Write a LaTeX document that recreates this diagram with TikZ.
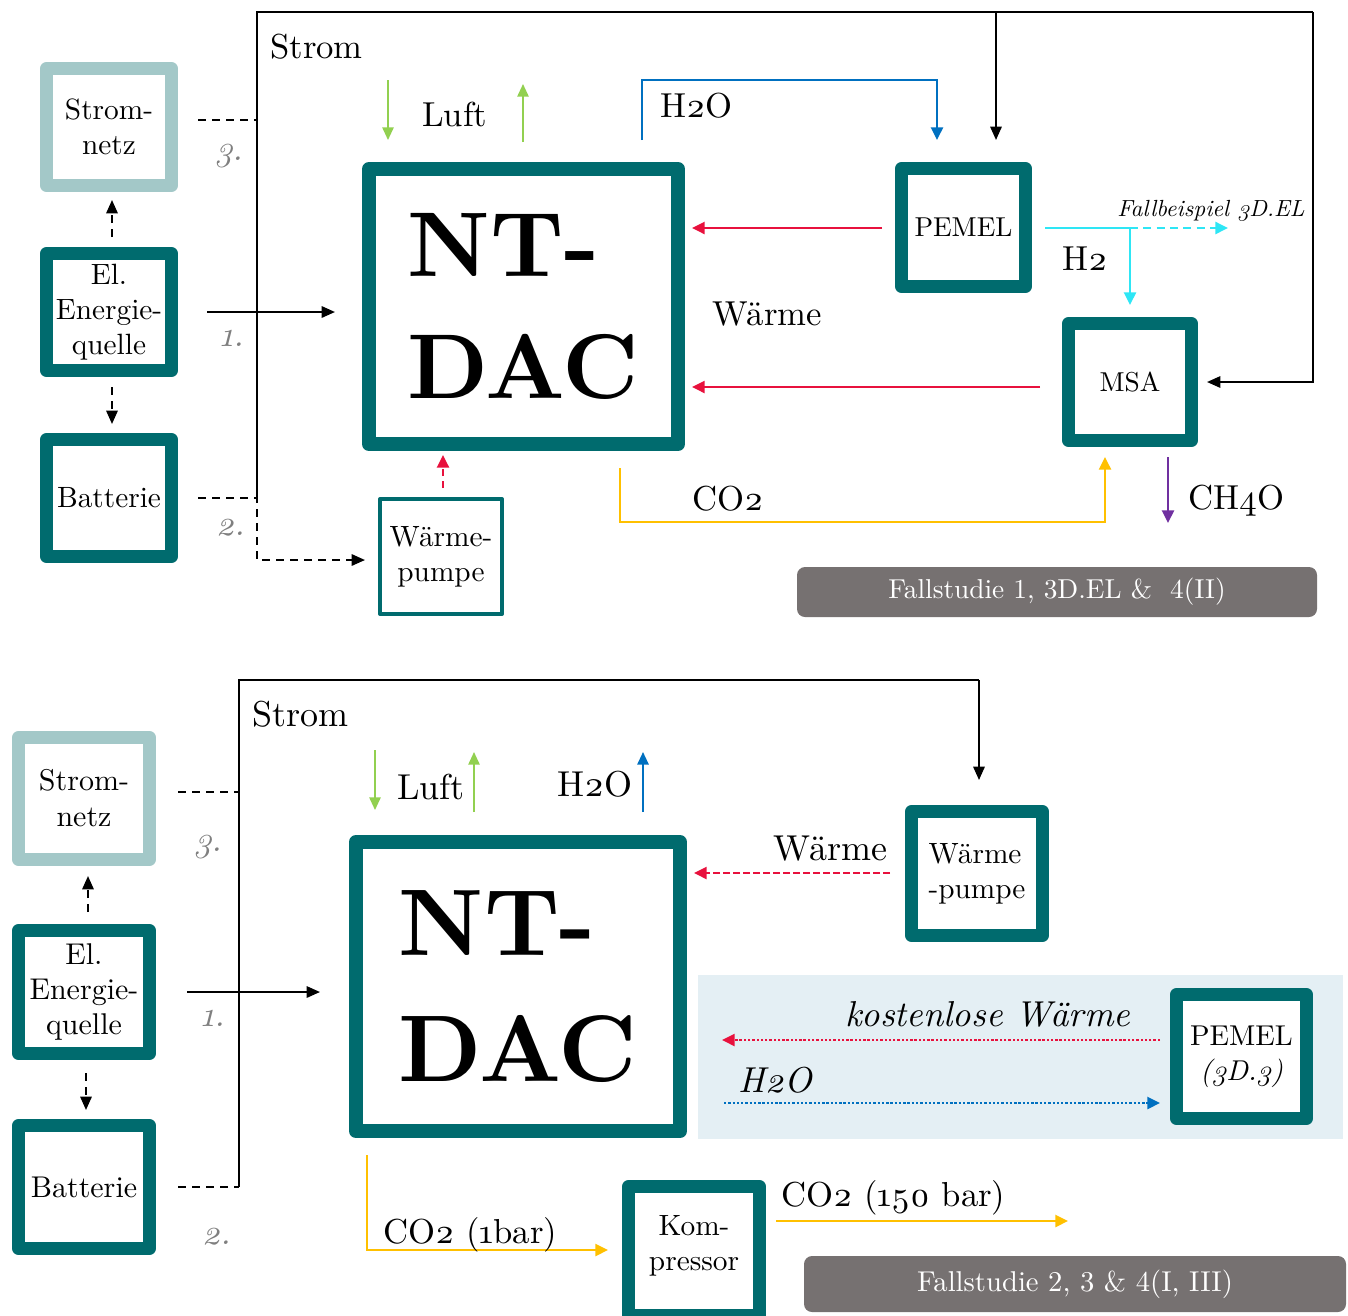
\documentclass[tikz,border=0pt]{standalone}
\usepackage{fontspec}
\setmainfont{lmroman10}[Extension=.otf, UprightFont=*-regular, BoldFont=*-bold, ItalicFont=*-italic, BoldItalicFont=*-bolditalic, Numbers=OldStyle]
\usetikzlibrary{arrows.meta,calc}
\definecolor{dteal}{HTML}{006B6E}
\definecolor{lteal}{HTML}{A3C8C8}
\definecolor{bgray}{HTML}{767171}
\definecolor{numgray}{HTML}{7F7F7F}
\definecolor{cred}{HTML}{E8113D}
\definecolor{cblue}{HTML}{0070C0}
\definecolor{ccyan}{HTML}{2EE6F5}
\definecolor{cgreen}{HTML}{92D050}
\definecolor{cyel}{HTML}{FFC000}
\definecolor{cpur}{HTML}{7030A0}
\definecolor{lblue}{HTML}{E4EFF4}
\begin{document}
\begin{tikzpicture}[x=0.75pt,y=-0.75pt,
  box/.style={draw=dteal,line width=10pt,line join=round,fill=white,align=center,inner sep=0pt,font=\fontsize{22}{26}\selectfont},
  lbox/.style={box,draw=lteal},
  thinbox/.style={box,line width=3pt},
  lbl/.style={inner sep=0pt,anchor=base west,font=\fontsize{26}{30}\selectfont},
  lblb/.style={lbl,font=\fontsize{27}{31}\selectfont},
  num/.style={inner sep=0pt,anchor=base west,text=numgray,font=\fontsize{26}{30}\selectfont\itshape},
  banner/.style={fill=bgray,rounded corners=6pt,text=white,inner sep=0pt},
  strom/.style={line width=1.5pt,black},
  dsh/.style={line width=1.5pt,black,dash pattern=on 6pt off 4.5pt},
  arr/.style={-{Triangle[length=10pt,width=8.5pt]}},
  carr/.style={line width=1.8pt,-{Triangle[length=9.5pt,width=9pt]}},
  gl/.style={cgreen,line width=1.3pt,-{Triangle[length=9.5pt,width=8.5pt]}},
  dotl/.style={line width=1.8pt,dash pattern=on 1.8pt off 1.4pt},
]
\useasboundingbox (0,0) rectangle (1348,1315);
\clip (0,0) rectangle (1348,1315);

% ================= TOP PANEL =================
\node[lbox,minimum width=93.5pt,minimum height=87.5pt] (snetz1) at (109,127) {Strom-\\netz};
\node[box,minimum width=93.5pt,minimum height=87.5pt] (el1) at (109,312) {El.\\Energie-\\quelle};
\node[box,minimum width=93.5pt,minimum height=87.5pt] (batt1) at (109,498) {Batterie};
\node[thinbox,minimum width=91.5pt,minimum height=86.25pt] (wp1) at (441,556.5) {Wärme-\\pumpe};
\node[box,line width=10.5pt,minimum width=231.75pt,minimum height=206.25pt,align=left,font=\fontsize{69}{91}\selectfont\bfseries] (dac1) at (523.5,306.5) {NT-\\DAC};
\node[box,minimum width=92.75pt,minimum height=88.25pt,font=\fontsize{20.5}{24}\selectfont] (pemel1) at (963.5,227.5) {PEMEL};
\node[box,minimum width=92pt,minimum height=87.5pt,font=\fontsize{20.5}{24}\selectfont] (msa1) at (1130,382) {MSA};
\node[banner,minimum width=390pt,minimum height=37.5pt,font=\fontsize{20.5}{24}\selectfont\addfontfeatures{Numbers=Lining}] (ban1) at (1057,592) {Fallstudie 1, 3D.EL \& \ 4(II)};

% Strom bus
\coordinate (b1t) at (257,12);
\coordinate (b1b) at (257,498);
\coordinate (b1r) at (1313,12);
\coordinate (b1p) at (996,12);
\draw[strom] (b1b) -- (b1t) -- (b1r);
\draw[strom,arr] (b1r) |- ($(msa1.east)+(9,0)$);
\draw[strom,arr] (b1p) -- ($(pemel1.north -| b1p)+(0,-22)$);
\draw[dsh] ($(snetz1.east)+(20,-7)$) coordinate (t1) -- (t1 -| b1t);
\draw[dsh,arr] ($(batt1.east)+(20,0)$) -- (b1b) |- ($(wp1.west)+(-13,3.5)$);
\draw[strom,arr] ($(el1.east)+(29,0)$) -- ($(dac1.west |- el1.east)+(-27,0)$);
\draw[dsh,arr] ($(el1.north)+(3,-10)$) -- ($(snetz1.south)+(3,8)$);
\draw[dsh,arr] ($(el1.south)+(3,10)$) -- ($(batt1.north)+(3,-9)$);

\node[lbl] (strom1) at (270,58) {Strom};
\node[num] (n31) at (215,160) {3.};
\node[num] (n11) at (220,346) {1.};
\node[num] (n21) at (216,535) {2.};

% flows
\draw[cred,carr,dash pattern=on 5pt off 4pt] ($(wp1.north)+(2,-9)$) -- ($(wp1.north |- dac1.south)+(2,4)$);
\draw[cred,carr] ($(pemel1.west)+(-13,0.5)$) -- ($(dac1.east |- pemel1.west)+(7,0.5)$);
\draw[cred,carr] ($(msa1.west)+(-22,5)$) -- ($(dac1.east |- msa1.west)+(7,5)$);
\node[lbl] (waerme1) at (712,325) {Wärme};

\coordinate (h2j) at (1130,228);
\coordinate (fb) at (1228,228);
\draw[ccyan,line width=1.8pt] ($(pemel1.east)+(13,0.5)$) -- (h2j);
\draw[ccyan,carr,dash pattern=on 6pt off 4pt] (h2j) -- (fb);
\draw[ccyan,carr] (h2j) -- ($(msa1.north)+(0,-12)$);
\node[lbl] (h21) at (1062,270) {H2};
\node[inner sep=0pt,anchor=base west,font=\fontsize{17.5}{20}\selectfont\itshape] (fbl) at (1117,216) {Fallbeispiel 3D.EL};

\draw[cyel,carr] ($(dac1.south)+(96.5,17)$) -- ++(0,54) -| ($(msa1.south)+(-25,10)$);
\node[lbl] (co21) at (692,510) {CO2};
\draw[cpur,carr] ($(msa1.south)+(38,10)$) -- ++(0,66);
\node[lbl] (ch4o) at (1188,509) {CH4O};

\draw[cblue,carr] ($(dac1.north)+(118.5,-22)$) -- ++(0,-60) -| ($(pemel1.north)+(-26.5,-22)$);
\node[lbl] (h2o1) at (660,117) {H2O};

\draw[gl] ($(dac1.north west)+(26,-82)$) -- ++(0,60);
\draw[gl] ($(dac1.north west)+(161,-20)$) -- ++(0,-58);
\node[lbl] (luft1) at (422,126) {Luft};

% ================= BOTTOM PANEL =================
\node[lbox,minimum width=98pt,minimum height=91.25pt,font=\fontsize{22.5}{27}\selectfont] (snetz2) at (84,798.5) {Strom-\\netz};
\node[box,minimum width=98pt,minimum height=92pt,font=\fontsize{22.5}{26.5}\selectfont] (el2) at (84,992) {El.\\Energie-\\quelle};
\node[box,minimum width=98pt,minimum height=92pt,font=\fontsize{22.5}{26}\selectfont] (batt2) at (84,1187) {Batterie};
\node[box,line width=10.5pt,minimum width=243pt,minimum height=216.75pt,align=left,font=\fontsize{71}{95}\selectfont\bfseries] (dac2) at (518,986.5) {NT-\\DAC};
\node[box,minimum width=98pt,minimum height=92.75pt,align=left,font=\fontsize{22}{26}\selectfont] (wp2) at (977,873.5) {Wärme\\-pumpe};
\node[fill=lblue,inner sep=0pt,minimum width=483.75pt,minimum height=123pt] (zone) at (1020.5,1057) {};
\node[box,minimum width=97.25pt,minimum height=92.75pt,font=\fontsize{21.5}{26}\selectfont] (pemel2) at (1241.5,1056.5) {PEMEL\\\textit{(3D.3)}};
\node[box,minimum width=98pt,minimum height=96.5pt] (komp) at (694,1251) {};
\node[inner sep=0pt,align=center,font=\fontsize{22}{26}\selectfont] (komptxt) at ($(komp.center)+(0,-5)$) {Kom-\\pressor};
\node[banner,minimum width=406.5pt,minimum height=42pt,font=\fontsize{21.5}{25}\selectfont\addfontfeatures{Numbers=Lining}] (ban2) at (1075,1284) {Fallstudie 2, 3 \& 4(I, III)};

\coordinate (b2t) at (239,680);
\coordinate (b2b) at (239,1187);
\coordinate (b2r) at (979,680);
\draw[strom] (b2b) -- (b2t) -- (b2r);
\draw[strom,arr] (b2r) -- ($(wp2.north -| b2r)+(0,-25)$);
\draw[dsh] ($(snetz2.east)+(22,-6.5)$) coordinate (t2) -- (t2 -| b2t);
\draw[dsh] ($(batt2.east)+(22,0)$) -- (b2b);
\draw[strom,arr] ($(el2.east)+(31,0)$) -- ($(dac2.west |- el2.east)+(-29,0)$);
\draw[dsh,arr] ($(el2.north)+(4,-12)$) -- ($(snetz2.south)+(4,10)$);
\draw[dsh,arr] ($(el2.south)+(2,13)$) -- ($(batt2.north)+(2,-9)$);

\node[lblb] (strom2) at (252,726) {Strom};
\node[num] (n32) at (194,851) {3.};
\node[num] (n12) at (201,1026) {1.};
\node[num] (n22) at (202,1244) {2.};

\draw[gl] ($(dac2.north west)+(26,-85)$) -- ++(0,60);
\draw[gl] ($(dac2.north west)+(125,-23)$) -- ++(0,-60);
\draw[cblue,line width=1.5pt,-{Triangle[length=9.5pt,width=8.5pt]}] ($(dac2.north west)+(294,-23)$) -- ++(0,-60);
\node[lblb] (luft2) at (397,799) {Luft};
\node[lblb] (h2o2) at (557,796) {H2O};

\draw[cred,carr,dash pattern=on 5pt off 2.5pt] ($(wp2.west)+(-15,-0.5)$) -- ($(dac2.east |- wp2.west)+(7,-0.5)$);
\node[lblb] (waerme2) at (773,860) {Wärme};

\draw[cred,dotl,-{Triangle[length=9.5pt,width=9pt]}] ($(pemel2.west)+(-10,-16.5)$) -- ($(dac2.east |- pemel2.west)+(35,-16.5)$);
\draw[cblue,dotl,-{Triangle[length=9.5pt,width=9pt]}] ($(dac2.east |- pemel2.west)+(37,46.5)$) -- ($(pemel2.west)+(-10,46.5)$);
\node[lblb,font=\fontsize{27}{31}\selectfont\itshape] (kw) at (845,1026) {kostenlose Wärme};
\node[lblb,font=\fontsize{27}{31}\selectfont\itshape] (h2o3) at (738,1092) {H2O};

\draw[cyel,carr] ($(dac2.south west)+(18,17)$) -- ++(0,95) -- ($(komp.west)+(-14,-1)$);
\draw[cyel,carr] ($(komp.east)+(10,-30)$) -- ++(292,0);
\node[lbl] (co22) at (383,1243) {CO2 (1bar)};
\node[lbl] (co23) at (781,1206) {CO2 (150 bar)};
\end{tikzpicture}
\end{document}
